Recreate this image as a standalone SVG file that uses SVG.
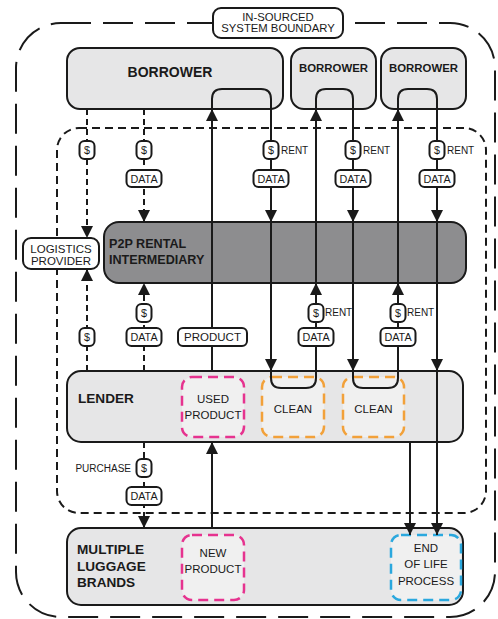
<svg xmlns="http://www.w3.org/2000/svg" width="498" height="619" viewBox="0 0 498 619">
  <style>
    text { font-family: "Liberation Sans", Arial, sans-serif; fill: #1a1a1a; }
    .bold { font-weight: bold; }
    .mid { text-anchor: middle; }
    .box { fill: #e6e6e7; stroke: #1a1a1a; stroke-width: 2; }
    .dark { fill: #8d8d8f; stroke: #1a1a1a; stroke-width: 2; }
    .label { fill: #ffffff; stroke: #1a1a1a; stroke-width: 2; }
    .badge { fill: #ffffff; stroke: #1a1a1a; stroke-width: 2; }
    .flow { fill: none; stroke: #1a1a1a; stroke-width: 2; marker-end: url(#arr); }
    .flow-plain { fill: none; stroke: #1a1a1a; stroke-width: 2; }
    .dash { fill: none; stroke: #1a1a1a; stroke-width: 2; stroke-dasharray: 6 4; marker-end: url(#arr); }
    .proc { fill: #f0f0f0; stroke-width: 2.5; stroke-dasharray: 10 6; }
    .pink { stroke: #e6338f; }
    .orange { stroke: #f2a13a; }
    .cyan { stroke: #2ba8de; }
    .small { font-size: 11.5px; }
    .tag { font-size: 10.8px; }
    .rent { font-size: 10px; }
  </style>
  <defs>
    <marker id="arr" markerUnits="userSpaceOnUse" markerWidth="12" markerHeight="12" viewBox="0 0 12 12" refX="12" refY="6" orient="auto">
      <path d="M0,0 L12,6 L0,12 z" fill="#1a1a1a"/>
    </marker>
  </defs>

  <rect width="498" height="619" fill="#ffffff"/>

  <!-- boundaries -->
  <g id="outer-boundary">
    <rect x="16" y="23" width="479" height="594" rx="45" fill="none" stroke="#1a1a1a" stroke-width="2" stroke-dasharray="30 12"/>
    <rect x="213" y="8" width="130" height="30" rx="8" class="label"/>
    <text x="278" y="21" class="mid" font-size="11.3">IN-SOURCED</text>
    <text x="278" y="32" class="mid" font-size="11.3">SYSTEM BOUNDARY</text>
  </g>
  <g id="inner-boundary">
    <rect x="57" y="128" width="429" height="385" rx="22" fill="none" stroke="#1a1a1a" stroke-width="2" stroke-dasharray="8 5"/>
  </g>

  <!-- nodes -->
  <g id="borrower-1">
    <rect x="67" y="48" width="216" height="61" rx="13" class="box"/>
    <text x="170" y="77" class="mid bold" font-size="14">BORROWER</text>
  </g>
  <g id="borrower-2">
    <rect x="291" y="48" width="85" height="61" rx="13" class="box"/>
    <text x="333.5" y="72" class="mid bold" font-size="11.4">BORROWER</text>
  </g>
  <g id="borrower-3">
    <rect x="381" y="48" width="85" height="61" rx="13" class="box"/>
    <text x="423.5" y="72" class="mid bold" font-size="11.4">BORROWER</text>
  </g>
  <g id="p2p-intermediary">
    <rect x="104" y="222" width="362" height="61" rx="15" class="dark"/>
    <text x="109" y="248" class="bold" font-size="12.6">P2P RENTAL</text>
    <text x="109" y="264" class="bold" font-size="12.6">INTERMEDIARY</text>
  </g>
  <g id="logistics-provider">
    <rect x="23" y="238" width="76" height="31" rx="8" class="label"/>
    <text x="61" y="253" class="mid small">LOGISTICS</text>
    <text x="61" y="265" class="mid small">PROVIDER</text>
  </g>
  <g id="lender">
    <rect x="67" y="371" width="396" height="71" rx="14" class="box"/>
    <text x="78" y="403" class="bold" font-size="13.6">LENDER</text>
  </g>
  <g id="used-product">
    <rect x="182" y="377" width="62" height="60" rx="10" class="proc pink"/>
    <text x="213" y="403" class="mid small">USED</text>
    <text x="213" y="419" class="mid small">PRODUCT</text>
  </g>
  <g id="clean-1">
    <rect x="262" y="377" width="62" height="60" rx="10" class="proc orange"/>
    <text x="293" y="413" class="mid small">CLEAN</text>
  </g>
  <g id="clean-2">
    <rect x="343" y="377" width="61" height="60" rx="10" class="proc orange"/>
    <text x="373.5" y="413" class="mid small">CLEAN</text>
  </g>
  <g id="luggage-brands">
    <rect x="67" y="528" width="396" height="77" rx="14" class="box"/>
    <text x="77" y="554" class="bold" font-size="13.6">MULTIPLE</text>
    <text x="77" y="571" class="bold" font-size="13.6">LUGGAGE</text>
    <text x="77" y="587" class="bold" font-size="13.6">BRANDS</text>
  </g>
  <g id="new-product">
    <rect x="182" y="535" width="62" height="65" rx="10" class="proc pink"/>
    <text x="213" y="557" class="mid small">NEW</text>
    <text x="213" y="573" class="mid small">PRODUCT</text>
  </g>
  <g id="end-of-life">
    <rect x="391" y="535" width="70" height="65" rx="10" class="proc cyan"/>
    <text x="426" y="552" class="mid small">END</text>
    <text x="426" y="568" class="mid small">OF LIFE</text>
    <text x="426" y="585" class="mid small">PROCESS</text>
  </g>

  <!-- connectors -->
  <g id="connectors">
    <!-- money / data flows (dashed) -->
    <path d="M87,109 V238" class="dash"/>
    <path d="M144,109 V222" class="dash"/>
    <path d="M87,371 V269" class="dash"/>
    <path d="M144,371 V283" class="dash"/>
    <path d="M144,442 V528" class="dash"/>

    <!-- product flows (solid) -->
    <path d="M212,528 V442" class="flow"/>
    <path d="M212,371 V109" class="flow"/>
    <path d="M212,109 V99 Q212,89 222,89 H261 Q271,89 271,99 V222" class="flow"/>
    <path d="M271,222 V371" class="flow"/>
    <path d="M271,371 V378 Q271,388 281,388 H306 Q316,388 316,378 V283" class="flow"/>
    <path d="M316,283 V109" class="flow"/>
    <path d="M316,109 V99 Q316,89 326,89 H343 Q353,89 353,99 V222" class="flow"/>
    <path d="M353,222 V371" class="flow"/>
    <path d="M353,371 V378 Q353,388 363,388 H388 Q398,388 398,378 V283" class="flow"/>
    <path d="M398,283 V109" class="flow"/>
    <path d="M398,109 V99 Q398,89 408,89 H427 Q437,89 437,99 V222" class="flow"/>
    <path d="M437,222 V371" class="flow"/>
    <path d="M437,371 V535" class="flow"/>
    <path d="M410,442 V535" class="flow"/>

    <!-- connector tags: borrower side -->
    <rect x="79.5" y="141" width="15" height="18" rx="5" class="badge"/>
    <text x="87" y="154" class="mid tag">$</text>
    <rect x="136.5" y="141" width="15" height="18" rx="5" class="badge"/>
    <text x="144" y="154" class="mid tag">$</text>
    <rect x="126.5" y="170" width="35" height="17" rx="5" class="badge"/>
    <text x="144" y="182.5" class="mid tag">DATA</text>

    <rect x="263.5" y="141" width="15" height="18" rx="5" class="badge"/>
    <text x="271" y="154" class="mid tag">$</text>
    <text x="281" y="154" class="rent">RENT</text>
    <rect x="253.5" y="170" width="35" height="17" rx="5" class="badge"/>
    <text x="271" y="182.5" class="mid tag">DATA</text>

    <rect x="345.5" y="141" width="15" height="18" rx="5" class="badge"/>
    <text x="353" y="154" class="mid tag">$</text>
    <text x="363" y="154" class="rent">RENT</text>
    <rect x="335.5" y="170" width="35" height="17" rx="5" class="badge"/>
    <text x="353" y="182.5" class="mid tag">DATA</text>

    <rect x="429.5" y="141" width="15" height="18" rx="5" class="badge"/>
    <text x="437" y="154" class="mid tag">$</text>
    <text x="447" y="154" class="rent">RENT</text>
    <rect x="419.5" y="170" width="35" height="17" rx="5" class="badge"/>
    <text x="437" y="182.5" class="mid tag">DATA</text>

    <!-- connector tags: lender side -->
    <rect x="79.5" y="328" width="15" height="18" rx="5" class="badge"/>
    <text x="87" y="341" class="mid tag">$</text>
    <rect x="136.5" y="304" width="15" height="18" rx="5" class="badge"/>
    <text x="144" y="317" class="mid tag">$</text>
    <rect x="126.5" y="328" width="35" height="18" rx="5" class="badge"/>
    <text x="144" y="341" class="mid tag">DATA</text>
    <rect x="178" y="328" width="69" height="18" rx="5" class="badge"/>
    <text x="212.5" y="341" class="mid small">PRODUCT</text>

    <rect x="308.5" y="304" width="15" height="18" rx="5" class="badge"/>
    <text x="316" y="317" class="mid tag">$</text>
    <text x="325" y="316" class="rent">RENT</text>
    <rect x="298.5" y="328" width="35" height="18" rx="5" class="badge"/>
    <text x="316" y="341" class="mid tag">DATA</text>

    <rect x="390.5" y="304" width="15" height="18" rx="5" class="badge"/>
    <text x="398" y="317" class="mid tag">$</text>
    <text x="407" y="316" class="rent">RENT</text>
    <rect x="380.5" y="328" width="35" height="18" rx="5" class="badge"/>
    <text x="398" y="341" class="mid tag">DATA</text>

    <!-- connector tags: purchase -->
    <text x="131" y="472" class="rent" text-anchor="end">PURCHASE</text>
    <rect x="136.5" y="459" width="15" height="18" rx="5" class="badge"/>
    <text x="144" y="472" class="mid tag">$</text>
    <rect x="126.5" y="487" width="35" height="18" rx="5" class="badge"/>
    <text x="144" y="500" class="mid tag">DATA</text>
  </g>
</svg>
